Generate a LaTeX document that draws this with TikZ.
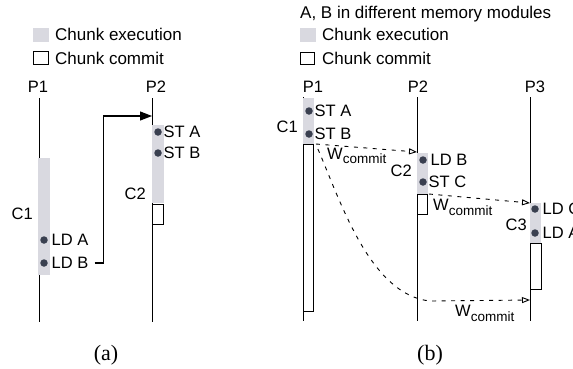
\documentclass[tikz,border=0pt]{standalone}
\usepackage{fontspec}
\setmainfont{Liberation Serif}
\setsansfont{Liberation Sans}
\usetikzlibrary{arrows.meta, positioning}

\definecolor{execgray}{RGB}{217,217,224}
\definecolor{dotgray}{RGB}{58,64,80}

\newcommand{\wsub}{W\raisebox{-4.5bp}{\fontsize{13.5bp}{15bp}\selectfont commit}}

\begin{document}
\begin{tikzpicture}[
    x=1bp, y=-1bp,
    txt/.style={font=\sffamily\fontsize{16.5bp}{19bp}\selectfont, inner sep=0pt},
    legendtxt/.style={font=\sffamily\fontsize{17bp}{20bp}\selectfont, inner sep=0pt, anchor=base west},
    caption/.style={font=\fontsize{22bp}{26bp}\selectfont, inner sep=0pt},
    proc/.style={line width=1bp},
    exec/.style={fill=execgray, draw=none, inner sep=0pt, anchor=north west},
    commit/.style={draw=black, fill=white, line width=0.9bp, inner sep=0pt, anchor=north west},
    dot/.style={circle, fill=dotgray, inner sep=0pt, minimum size=7.5bp},
    wire/.style={-{Triangle[length=12bp, width=9bp]}, line width=1.1bp},
    wcommit/.style={dash pattern=on 4bp off 5.5bp, line width=0.9bp, -{Triangle[open, length=8bp, width=6bp]}}
]
\useasboundingbox (0,0) rectangle (573,368);

%% ---------- (a) ----------

% Legend
\node[exec, minimum width=16bp, minimum height=14bp] (legexa) at (33,28) {};
\node[legendtxt] (legexatxt) at (55,40) {Chunk execution};
\node[commit, minimum width=15bp, minimum height=13bp] (legcoa) at (33,51) {};
\node[legendtxt] (legcoatxt) at (55,64) {Chunk commit};

% Processors
\node[txt, anchor=base] (p1a) at (38,92) {P1};
\node[txt, anchor=base] (p2a) at (156,92) {P2};
\coordinate (p1atop) at (39,98);
\coordinate (p1abot) at (39,322);
\coordinate (p2atop) at (152,98);
\coordinate (p2abot) at (152,322);
\draw[proc] (p1atop) -- (p1abot);
\draw[proc] (p2atop) -- (p2abot);

% Chunk C1 on P1
\node[exec, minimum width=12bp, minimum height=117bp] (c1a) at (38,158) {};
\node[txt, anchor=east] (c1alabel) at (33,214) {C1};
\node[dot] (lda) at (44,240) {};
\node[txt, right=3.5bp of lda] (ldatxt) {LD A};
\node[dot] (ldb) at (44,263) {};
\node[txt, right=3.5bp of ldb] (ldbtxt) {LD B};

% Chunk C2 on P2
\node[exec, minimum width=12bp, minimum height=78bp] (c2a) at (152,125) {};
\node[commit, minimum width=11bp, minimum height=20bp] (c2acommit) at (152,204) {};
\node[txt, anchor=east] (c2alabel) at (146,194) {C2};
\node[dot] (sta) at (158,132) {};
\node[txt, right=1.5bp of sta] (statxt) {ST A};
\node[dot] (stb) at (158,153) {};
\node[txt, right=1.5bp of stb] (stbtxt) {ST B};

% Dependence
\coordinate (p2ahit) at (152,116);
\draw[wire] ([xshift=6bp]ldbtxt.east) -- ++(9,0) |- (p2ahit);

\node[caption] (capa) at (106,355) {(a)};

%% ---------- (b) ----------

% Legend
\node[legendtxt] (titleb) at (300,18.5) {A, B in different memory modules};
\node[exec, minimum width=16bp, minimum height=14bp] (legexb) at (300,28) {};
\node[legendtxt] (legexbtxt) at (322,40.5) {Chunk execution};
\node[commit, minimum width=14bp, minimum height=12bp] (legcob) at (299.5,52) {};
\node[legendtxt] (legcobtxt) at (322,64) {Chunk commit};

% Processors
\node[txt, anchor=base] (p1b) at (313,92.5) {P1};
\node[txt, anchor=base] (p2b) at (418,92.5) {P2};
\node[txt, anchor=base] (p3b) at (535,92.5) {P3};
\coordinate (p1btop) at (303,97);
\coordinate (p1bbot) at (303,321);
\coordinate (p2btop) at (417,97);
\coordinate (p2bbot) at (417,321);
\coordinate (p3btop) at (530,97);
\coordinate (p3bbot) at (530,321);
\draw[proc] (p1btop) -- (p1bbot);
\draw[proc] (p2btop) -- (p2bbot);
\draw[proc] (p3btop) -- (p3bbot);

% Chunk C1 on P1
\node[exec, minimum width=11bp, minimum height=46bp] (c1b) at (303,98) {};
\node[commit, minimum width=10bp, minimum height=167bp] (c1bcommit) at (303,144) {};
\node[txt, anchor=east] (c1blabel) at (298,127) {C1};
\node[dot] (stab) at (309,111) {};
\node[txt, right=1.5bp of stab] (stabtxt) {ST A};
\node[dot] (stbb) at (309,134) {};
\node[txt, right=1.5bp of stbb] (stbbtxt) {ST B};

% Chunk C2 on P2
\node[exec, minimum width=11bp, minimum height=41bp] (c2b) at (417,153) {};
\node[commit, minimum width=10bp, minimum height=20bp] (c2bcommit) at (417,194) {};
\node[txt, anchor=east] (c2blabel) at (412,171) {C2};
\node[dot] (ldbb) at (423,160) {};
\node[txt, right=3.5bp of ldbb] (ldbbtxt) {LD B};
\node[dot] (stcb) at (423,182) {};
\node[txt, right=1.5bp of stcb] (stcbtxt) {ST C};

% Chunk C3 on P3
\node[exec, minimum width=11bp, minimum height=40bp] (c3b) at (530,203) {};
\node[commit, minimum width=11bp, minimum height=46bp] (c3bcommit) at (530,243) {};
\node[txt, anchor=east] (c3blabel) at (527,225) {C3};
\node[dot] (ldcb) at (535,209) {};
\node[txt, right=3.5bp of ldcb] (ldcbtxt) {LD C};
\node[dot] (ldab) at (535,233) {};
\node[txt, right=3.5bp of ldab] (ldabtxt) {LD A};

% Commit windows
\coordinate (p2bhit) at (417,152);
\coordinate (p3bhit) at (530,203);
\coordinate (p3bhitlow) at (530,300);
\draw[wcommit] ([xshift=2bp]c1bcommit.north east) -- (p2bhit);
\draw[wcommit] ([xshift=1bp]c2bcommit.north east) -- (p3bhit);
\draw[wcommit] ([xshift=4bp,yshift=-5bp]c1bcommit.north east)
    .. controls (340,200) and (370,295) .. (430,301) -- (p3bhitlow);
\node[txt, anchor=north west] (w1) at (327,147.5) {\wsub};
\node[txt, anchor=north west] (w2) at (433,199) {\wsub};
\node[txt, anchor=north west] (w3) at (455,305) {\wsub};

\node[caption] (capb) at (430,355) {(b)};

\end{tikzpicture}
\end{document}
